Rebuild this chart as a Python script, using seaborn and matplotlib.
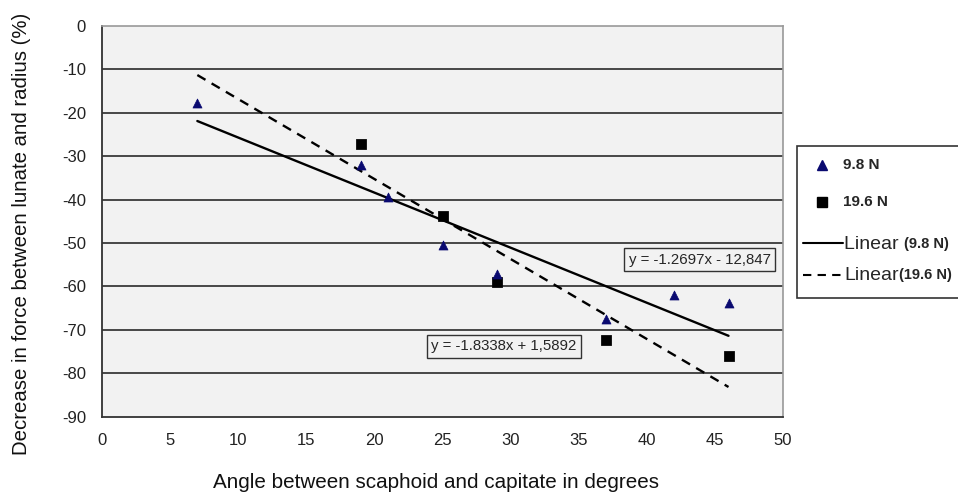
import matplotlib
matplotlib.use("Agg")
import matplotlib.pyplot as plt
import seaborn as sns
import pandas as pd
from matplotlib.lines import Line2D
from matplotlib.patches import Rectangle

# measured points
x_98 = [7, 19, 21, 25, 29, 37, 42, 46]
y_98 = [-17.7, -32.0, -39.4, -50.5, -57.2, -67.6, -62.0, -63.8]
x_196 = [19, 25, 29, 37, 46]
y_196 = [-27.2, -43.8, -58.9, -72.4, -76.1]

# trend line end points
fit_x = [7, 46]
fit_98 = [-21.9, -71.4]
fit_196 = [-11.3, -83.2]
eq_98 = "y = -1.2697x - 12,847"
eq_196 = "y = -1.8338x + 1,5892"

x_ticks = list(range(0, 51, 5))
y_ticks = list(range(-90, 1, 10))

sns.set_theme(style="white")
plt.rcParams['font.family'] = ['Liberation Sans', 'DejaVu Sans']
plt.rcParams['axes.unicode_minus'] = False

fig = plt.figure(figsize=(9.58, 4.95), dpi=100)
ax = fig.add_axes([102 / 958, 1 - 416.5 / 495, 681 / 958, 390.5 / 495])
ax.set_facecolor('#f2f2f2')

for yv in y_ticks[1:-1]:
    ax.axhline(yv, color='#3a3a3a', lw=1.3, zorder=1)

df98 = pd.DataFrame({'x': x_98, 'y': y_98})
df196 = pd.DataFrame({'x': x_196, 'y': y_196})
sns.lineplot(x=fit_x, y=fit_98, ax=ax, color='black', lw=1.7, zorder=3)
sns.lineplot(x=fit_x, y=fit_196, ax=ax, color='black', lw=1.7, zorder=3,
             linestyle=(0, (4, 3)))
sns.scatterplot(data=df196, x='x', y='y', ax=ax, marker='s', s=48,
                color='black', edgecolor='black', zorder=4)
sns.scatterplot(data=df98, x='x', y='y', ax=ax, marker='^', s=42,
                color='#0a0a70', edgecolor='#0a0a70', zorder=5)

ax.set_xlim(0, 50)
ax.set_ylim(-90, 0)
ax.set_xticks(x_ticks)
ax.set_yticks(y_ticks)
ax.set_xlabel('')
ax.set_ylabel('')
ax.tick_params(axis='both', direction='out', length=5, width=1.2,
               color='#333333', labelsize=12, labelcolor='#222222')
ax.tick_params(axis='x', pad=7)
ax.tick_params(axis='y', pad=6.5)
for side in ['left', 'bottom']:
    ax.spines[side].set_color('#333333')
    ax.spines[side].set_linewidth(1.3)
for side in ['top', 'right']:
    ax.spines[side].set_color('#999999')
    ax.spines[side].set_linewidth(1.2)

box = dict(boxstyle='square,pad=0.3', facecolor='#f2f2f2', edgecolor='#333333', lw=1)
ax.text(43.9, -53.9, eq_98, fontsize=10.8, ha='center', va='center', bbox=box, zorder=6)
ax.text(29.5, -73.8, eq_196, fontsize=10.8, ha='center', va='center', bbox=box, zorder=6)

fig.text(436 / 958, 1 - 482 / 495, 'Angle between scaphoid and capitate in degrees',
         fontsize=14.9, ha='center', va='center', color='#111111')
fig.text(22 / 958, 1 - 234 / 495, 'Decrease in force between lunate and radius (%)',
         fontsize=14.7, ha='center', va='center', rotation=90, color='#111111')

# legend drawn by hand (it runs off the right edge in the original)
W, H = 958, 495
fig.add_artist(Rectangle((797 / W, 1 - 298 / H), 200 / W, 152 / H,
                         transform=fig.transFigure, facecolor='white',
                         edgecolor='#333333', lw=1.2))
fig.add_artist(Line2D([822 / W], [1 - 165 / H], marker='^', ms=6.5, color='#0a0a70',
                      transform=fig.transFigure, linestyle='none'))
fig.add_artist(Line2D([822 / W], [1 - 202 / H], marker='s', ms=6.5, color='black',
                      transform=fig.transFigure, linestyle='none'))
fig.add_artist(Line2D([803 / W, 843 / W], [1 - 243.5 / H] * 2, color='black', lw=1.5,
                      transform=fig.transFigure))
fig.add_artist(Line2D([803 / W, 843 / W], [1 - 275 / H] * 2, color='black', lw=1.5,
                      linestyle=(0, (4, 3)), transform=fig.transFigure))
fig.text(843 / W, 1 - 165 / H, '9.8 N', fontsize=11, fontweight='bold', va='center')
fig.text(843 / W, 1 - 202 / H, '19.6 N', fontsize=11, fontweight='bold', va='center')

fig.canvas.draw()
r = fig.canvas.get_renderer()
t1 = fig.text(844 / W, 1 - 244 / H, 'Linear ', fontsize=14, va='center')
t2 = fig.text(844 / W, 1 - 275 / H, 'Linear', fontsize=14, va='center')
e1 = t1.get_window_extent(r)
e2 = t2.get_window_extent(r)
fig.text(e1.x1 / W, 1 - 244 / H, '(9.8 N)', fontsize=10.5, fontweight='bold', va='center')
fig.text(e2.x1 / W, 1 - 275 / H, '(19.6 N)', fontsize=10.5, fontweight='bold', va='center')

fig.savefig('out.png', dpi=100, facecolor='white')
